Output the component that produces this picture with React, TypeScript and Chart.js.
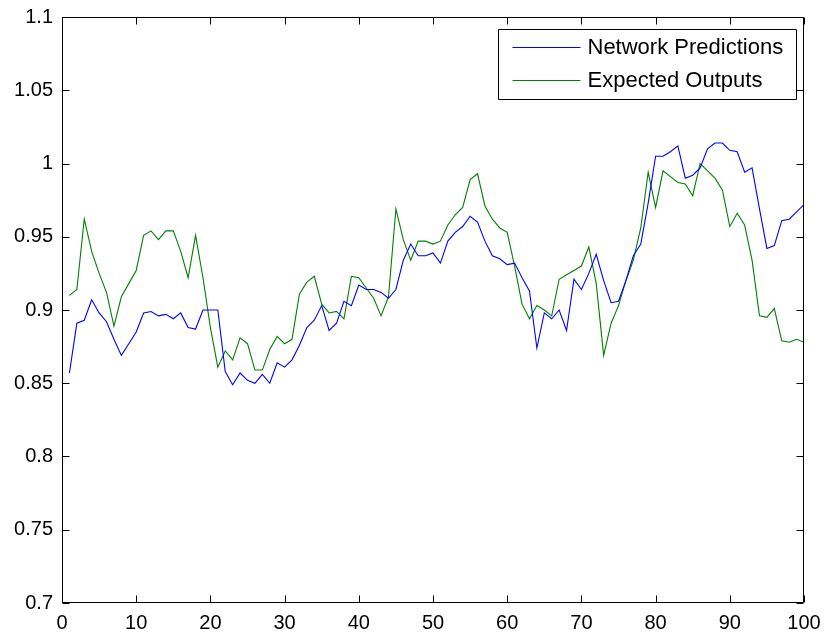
import React, { useEffect, useRef } from "react";
import { Chart, registerables } from "chart.js";

Chart.register(...registerables);

const sampleIndex: number[] = [
  1, 2, 3, 4, 5, 6, 7, 8, 9, 10, 11, 12, 13, 14, 15, 16, 17, 18, 19, 20,
  21, 22, 23, 24, 25, 26, 27, 28, 29, 30, 31, 32, 33, 34, 35, 36, 37, 38, 39, 40,
  41, 42, 43, 44, 45, 46, 47, 48, 49, 50, 51, 52, 53, 54, 55, 56, 57, 58, 59, 60,
  61, 62, 63, 64, 65, 66, 67, 68, 69, 70, 71, 72, 73, 74, 75, 76, 77, 78, 79, 80,
  81, 82, 83, 84, 85, 86, 87, 88, 89, 90, 91, 92, 93, 94, 95, 96, 97, 98, 99, 100,
];

const networkPredictions: number[] = [
  0.857, 0.891, 0.893, 0.907, 0.898, 0.892, 0.880, 0.869, 0.877, 0.885,
  0.898, 0.899, 0.896, 0.897, 0.894, 0.898, 0.888, 0.887, 0.900, 0.900,
  0.900, 0.858, 0.849, 0.857, 0.852, 0.850, 0.856, 0.850, 0.864, 0.861,
  0.866, 0.876, 0.888, 0.893, 0.903, 0.886, 0.891, 0.906, 0.903, 0.917,
  0.914, 0.914, 0.912, 0.908, 0.914, 0.934, 0.945, 0.937, 0.937, 0.939,
  0.932, 0.947, 0.953, 0.957, 0.964, 0.960, 0.947, 0.937, 0.935, 0.931,
  0.932, 0.922, 0.913, 0.874, 0.898, 0.894, 0.900, 0.886, 0.921, 0.914,
  0.925, 0.938, 0.920, 0.905, 0.906, 0.920, 0.937, 0.945, 0.973, 1.005,
  1.005, 1.008, 1.012, 0.990, 0.992, 0.997, 1.010, 1.014, 1.014, 1.009,
  1.008, 0.994, 0.997, 0.969, 0.942, 0.944, 0.961, 0.962, 0.967, 0.972,
];

const expectedOutputs: number[] = [
  0.910, 0.914, 0.962, 0.940, 0.925, 0.912, 0.889, 0.909, 0.918, 0.927,
  0.951, 0.954, 0.948, 0.954, 0.954, 0.940, 0.922, 0.951, 0.922, 0.888,
  0.861, 0.872, 0.866, 0.881, 0.877, 0.859, 0.859, 0.873, 0.882, 0.877,
  0.880, 0.911, 0.919, 0.923, 0.904, 0.898, 0.899, 0.894, 0.923, 0.922,
  0.915, 0.908, 0.896, 0.909, 0.969, 0.948, 0.934, 0.947, 0.947, 0.945,
  0.947, 0.958, 0.965, 0.970, 0.989, 0.993, 0.971, 0.962, 0.956, 0.953,
  0.930, 0.904, 0.894, 0.903, 0.900, 0.896, 0.921, 0.924, 0.927, 0.930,
  0.943, 0.918, 0.869, 0.891, 0.903, 0.920, 0.934, 0.956, 0.994, 0.970,
  0.995, 0.991, 0.987, 0.986, 0.978, 1.000, 0.995, 0.990, 0.982, 0.957,
  0.966, 0.958, 0.934, 0.896, 0.895, 0.901, 0.879, 0.878, 0.880, 0.878,
];

const xTickValues: number[] = [0, 10, 20, 30, 40, 50, 60, 70, 80, 90, 100];
const yTickValues: number[] = [0.7, 0.75, 0.8, 0.85, 0.9, 0.95, 1, 1.05, 1.1];
const seriesLabels: string[] = ["Network Predictions", "Expected Outputs"];
const seriesColors: string[] = ["#0000ff", "#008000"];

const FONT = '"Liberation Sans", Arial, Helvetica, sans-serif';

const matlabFrame = {
  id: "matlabFrame",
  afterDatasetsDraw(chart: any) {
    const { ctx, chartArea: a, scales } = chart;
    const L = Math.round(a.left) + 0.5;
    const R = Math.round(a.right) - 0.5;
    const T = Math.round(a.top) + 0.5;
    const B = Math.round(a.bottom) - 0.5;
    ctx.save();
    ctx.strokeStyle = "#000";
    ctx.lineWidth = 1;
    ctx.beginPath();
    ctx.rect(L, T, R - L, B - T);
    ctx.stroke();
    const tl = 7;
    ctx.beginPath();
    scales.x.ticks.forEach((t: any) => {
      const px = Math.round(scales.x.getPixelForValue(t.value)) + 0.5;
      ctx.moveTo(px, B);
      ctx.lineTo(px, B - tl);
      ctx.moveTo(px, T);
      ctx.lineTo(px, T + tl);
    });
    scales.y.ticks.forEach((t: any) => {
      const py = Math.round(scales.y.getPixelForValue(t.value)) + 0.5;
      ctx.moveTo(L, py);
      ctx.lineTo(L + tl, py);
      ctx.moveTo(R, py);
      ctx.lineTo(R - tl, py);
    });
    ctx.stroke();

    // legend box (MATLAB style)
    ctx.font = `22px ${FONT}`;
    const ds = chart.data.datasets;
    let tw = 0;
    ds.forEach((d: any) => {
      tw = Math.max(tw, ctx.measureText(d.label).width);
    });
    const padL = 14, lineLen = 68, gap = 7, padR = 13;
    const boxR = Math.round(a.right) - 7.5;
    const boxW = Math.round(padL + lineLen + gap + tw + padR);
    const boxL = boxR - boxW;
    const boxT = Math.round(a.top) + 12.5;
    const rowH = 33;
    const boxH = 70;
    ctx.fillStyle = "#fff";
    ctx.fillRect(boxL, boxT, boxW, boxH);
    ctx.strokeStyle = "#000";
    ctx.beginPath();
    ctx.rect(boxL, boxT, boxW, boxH);
    ctx.stroke();
    ds.forEach((d: any, i: number) => {
      const cy = boxT + 17 + i * rowH;
      ctx.strokeStyle = d.borderColor;
      ctx.beginPath();
      ctx.moveTo(boxL + padL, Math.round(cy) + 0.5);
      ctx.lineTo(boxL + padL + lineLen, Math.round(cy) + 0.5);
      ctx.stroke();
      ctx.fillStyle = "#000";
      ctx.textAlign = "left";
      ctx.textBaseline = "middle";
      ctx.fillText(d.label, boxL + padL + lineLen + gap, cy + 1);
    });
    ctx.restore();
  },
};

export default function App() {
  const canvasRef = useRef<HTMLCanvasElement | null>(null);

  useEffect(() => {
    const canvas = canvasRef.current;
    if (!canvas) return;
    const toPoints = (ys: number[]) => ys.map((y, i) => ({ x: sampleIndex[i], y }));
    const chart = new Chart(canvas, {
      type: "line",
      data: {
        datasets: [
          {
            label: seriesLabels[0],
            data: toPoints(networkPredictions),
            borderColor: seriesColors[0],
            backgroundColor: seriesColors[0],
            borderWidth: 1.1,
            pointRadius: 0,
            tension: 0,
            fill: false,
          },
          {
            label: seriesLabels[1],
            data: toPoints(expectedOutputs),
            borderColor: seriesColors[1],
            backgroundColor: seriesColors[1],
            borderWidth: 1.1,
            pointRadius: 0,
            tension: 0,
            fill: false,
          },
        ],
      },
      options: {
        animation: false,
        responsive: false,
        devicePixelRatio: 1,
        layout: { padding: { top: 17, right: 20, left: 0, bottom: 0 } },
        plugins: {
          legend: { display: false },
          tooltip: { enabled: false },
        },
        scales: {
          x: {
            type: "linear",
            min: 0,
            max: 100,
            grid: { display: false, drawTicks: false },
            border: { display: false },
            afterBuildTicks: (scale: any) => {
              scale.ticks = xTickValues.map((v) => ({ value: v }));
            },
            afterFit: (scale: any) => {
              scale.height = 34;
              scale.paddingLeft = 0;
              scale.paddingRight = 0;
            },
            ticks: {
              color: "#000",
              font: { family: FONT, size: 20 },
              padding: 8,
              maxRotation: 0,
              autoSkip: false,
              callback: (v: any) => String(v),
            },
          },
          y: {
            type: "linear",
            min: 0.7,
            max: 1.1,
            grid: { display: false, drawTicks: false },
            border: { display: false },
            afterBuildTicks: (scale: any) => {
              scale.ticks = yTickValues.map((v) => ({ value: v }));
            },
            afterFit: (scale: any) => {
              scale.width = 62;
              scale.paddingTop = 0;
              scale.paddingBottom = 0;
            },
            ticks: {
              color: "#000",
              font: { family: FONT, size: 20 },
              padding: 9,
              autoSkip: false,
              callback: (v: any) => String(Number(Number(v).toFixed(2))),
            },
          },
        },
      },
      plugins: [matlabFrame],
    });
    return () => chart.destroy();
  }, []);

  return (
    <div style={{ position: "fixed", left: 0, top: 0, width: 824, height: 637, background: "#fff" }}>
      <canvas ref={canvasRef} width={824} height={637} style={{ display: "block" }} />
    </div>
  );
}
